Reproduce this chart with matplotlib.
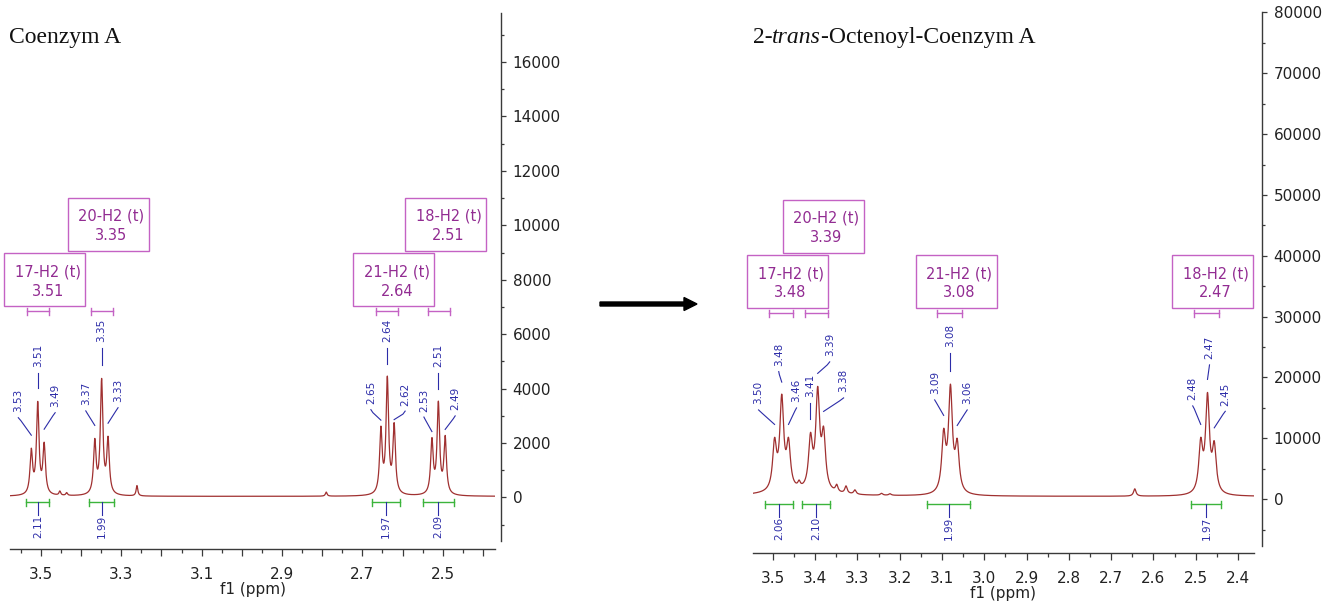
import numpy as np
import matplotlib
matplotlib.use('Agg')
import matplotlib.pyplot as plt
from matplotlib.patches import Rectangle, FancyArrow
from matplotlib.lines import Line2D
from matplotlib.transforms import IdentityTransform
from matplotlib.ticker import MultipleLocator, FuncFormatter

# ---- Coenzym A (left) ----
ppm_coa = [3.524, 3.508, 3.492, 3.366, 3.349, 3.333, 2.654, 2.638, 2.621, 2.527, 2.511, 2.494]
height_coa = [1810, 3530, 2030, 2170, 4375, 2250, 2620, 4460, 2750, 2200, 3540, 2280]
label_coa = ['3.53', '3.51', '3.49', '3.37', '3.35', '3.33', '2.65', '2.64', '2.62', '2.53', '2.51', '2.49']
small_ppm_coa = [3.453, 3.436, 3.261, 2.790]
small_height_coa = [150, 100, 380, 150]
mult_shift_coa = ['3.51', '3.35', '2.64', '2.51']
mult_range_coa = [(3.535, 3.479), (3.376, 3.320), (2.665, 2.611), (2.536, 2.482)]
int_range_coa = [(3.536, 3.479), (3.380, 3.317), (2.677, 2.607), (2.550, 2.473)]
int_value_coa = ['2.11', '1.99', '1.97', '2.09']

# ---- 2-trans-Octenoyl-Coenzym A (right) ----
ppm_oct = [3.496, 3.479, 3.463, 3.411, 3.394, 3.380, 3.096, 3.080, 3.064, 2.488, 2.472, 2.456]
height_oct = [10150, 17270, 10150, 10970, 18540, 11960, 11630, 18910, 9980, 10150, 17550, 9590]
label_oct = ['3.50', '3.48', '3.46', '3.41', '3.39', '3.38', '3.09', '3.08', '3.06', '2.48', '2.47', '2.45']
small_ppm_oct = [3.438, 3.349, 3.327, 3.306, 3.243, 3.223, 2.644]
small_height_oct = [900, 1100, 1200, 700, 300, 250, 1200]
mult_shift_oct = ['3.48', '3.39', '3.08', '2.47']
mult_range_oct = [(3.509, 3.452), (3.424, 3.369), (3.112, 3.052), (2.505, 2.445)]
int_range_oct = [(3.519, 3.452), (3.431, 3.364), (3.135, 3.033), (2.510, 2.439)]
int_value_oct = ['2.06', '2.10', '1.99', '1.97']

mult_name = ['17-H2 (t)', '20-H2 (t)', '21-H2 (t)', '18-H2 (t)']

# layout of the peak labels (pixel offsets from the peak top)
lab_dx_coa = [-13, 0, 11, -9, 0, 10, -10, 0, 11, -8, 0, 10]
lab_b_coa = [36, 34, 35, 33, 36, 34, 22, 34, 17, 26, 34, 25]
lab_end_coa = [13, 13, 13, 13, 13, 13, 6, 12, 3, 6, 12, 6]
lab_dx_oct = [-16, -3, 8, 0, 12, 20, -9, 0, 10, -8, 2, 11]
lab_b_oct = [33, 28, 35, 35, 30, 34, 34, 37, 34, 37, 33, 35]
lab_end_oct = [13, 12, 13, 13, 13, 15, 13, 13, 13, 13, 13, 13]
row_coa = [0, 1, 0, 1]
row_oct = [0, 1, 0, 0]

W, H = 1332, 603
RED = '#a03030'
BLUE = '#2c2ca8'
GREEN = '#3cb43c'
MAG_T = '#922c92'
MAG_E = '#c462c4'
AXC = '#3a3a3a'
idt = IdentityTransform()


def lorentz(x, x0, g):
    return 1.0 / (1.0 + ((x - x0) / g) ** 2)


def spectrum(x, ppm, heights, gamma, small_ppm, small_h, small_g, base, hump):
    ppm = np.asarray(ppm)
    heights = np.asarray(heights, float)

    def bg(z):
        z = np.asarray(z, float)
        out = base + hump[0] * lorentz(z, hump[1], hump[2])
        for p, h in zip(small_ppm, small_h):
            out = out + h * lorentz(z, p, small_g)
        return out

    M = lorentz(ppm[:, None], ppm[None, :], gamma)
    amps = np.linalg.solve(M, heights - bg(ppm))
    return bg(x) + (amps[None, :] * lorentz(x[:, None], ppm[None, :], gamma)).sum(1)


fig = plt.figure(figsize=(W / 100, H / 100), dpi=100)
axL = fig.add_axes([10 / W, (H - 541) / H, 485 / W, 528 / H])
axR = fig.add_axes([753 / W, (H - 546) / H, 501 / W, 533.5 / H])


def style_axes(ax, xlim, ylim, ymaj, ymin, odd_only, rout, bout):
    ax.set_xlim(*xlim)
    ax.set_ylim(*ylim)
    for s in ['top', 'left']:
        ax.spines[s].set_visible(False)
    ax.spines['right'].set_position(('outward', rout * 0.72))
    ax.spines['bottom'].set_position(('outward', bout * 0.72))
    for s in ['right', 'bottom']:
        ax.spines[s].set_color(AXC)
        ax.spines[s].set_linewidth(1.0)
    ax.yaxis.tick_right()
    ax.yaxis.set_major_locator(MultipleLocator(ymaj))
    ax.yaxis.set_minor_locator(MultipleLocator(ymin))
    ax.yaxis.set_major_formatter(FuncFormatter(lambda v, p: f'{v:.0f}'))
    ax.xaxis.set_major_locator(MultipleLocator(0.1))
    ax.xaxis.set_minor_locator(MultipleLocator(0.05))
    if odd_only:
        ax.xaxis.set_major_formatter(FuncFormatter(
            lambda v, p: f'{v:.1f}' if int(round(v * 10)) % 2 == 1 else ''))
    else:
        ax.xaxis.set_major_formatter(FuncFormatter(lambda v, p: f'{v:.1f}'))
    ax.tick_params(axis='y', which='major', length=3.6, width=0.9, pad=4.8,
                   labelsize=11, color=AXC, labelcolor='#222222')
    ax.tick_params(axis='y', which='minor', length=2.2, width=0.9, color=AXC)
    ax.tick_params(axis='x', which='major', length=4.7, width=0.9, pad=8,
                   labelsize=11, color=AXC, labelcolor='#222222')
    ax.tick_params(axis='x', which='minor', length=3.0, width=0.9, color=AXC)
    ax.set_xlabel('f1 (ppm)', fontsize=11, labelpad=0, color='#222222')
    ax.patch.set_alpha(0)


def hline(pts, color, lw=0.9):
    xs, ys = zip(*pts)
    fig.add_artist(Line2D(xs, ys, color=color, lw=lw, transform=idt))


def draw_panel(ax, ppm, heights, labels, dxs, bs, ends, mranges, mshifts, rows,
               iranges, ivals, ydat):
    ax.plot(ydat[0], ydat[1], color=RED, lw=0.9)
    T = ax.transData.transform
    for x, h, lab, dx, b, e in zip(ppm, heights, labels, dxs, bs, ends):
        px, py = T((x, h))
        if dx == 0:
            hline([(px, py + e), (px, py + b - 6)], BLUE, 0.8)
        else:
            hline([(px + dx, py + b - 5.5), (px + dx * 0.8, py + b - 8.5), (px, py + e)], BLUE, 0.8)
        fig.text(px + dx, py + b, lab, rotation=90, ha='center', va='bottom',
                 fontsize=7.5, color=BLUE, transform=idt)
    for (a, c), val in zip(iranges, ivals):
        x0, y0 = T((a, 0))
        x1, _ = T((c, 0))
        y = y0 - 5
        hline([(x0, y), (x1, y)], GREEN, 1.0)
        hline([(x0, y - 3.5), (x0, y + 3.5)], GREEN, 1.0)
        hline([(x1, y - 3.5), (x1, y + 3.5)], GREEN, 1.0)
        xc = (x0 + x1) / 2
        hline([(xc, y), (xc, y - 12.5)], BLUE, 0.8)
        fig.text(xc, y - 12.5, val, rotation=90, ha='center', va='top',
                 fontsize=7.5, color=BLUE, transform=idt)
    for (a, c), name, sh, row in zip(mranges, mult_name, mshifts, rows):
        x0, y0 = T((a, 0))
        x1, _ = T((c, 0))
        y = y0 + 186
        hline([(x0, y), (x1, y)], MAG_E, 1.0)
        hline([(x0, y - 3.5), (x0, y + 3.5)], MAG_E, 1.0)
        hline([(x1, y - 3.5), (x1, y + 3.5)], MAG_E, 1.0)
        bc = (x0 + x1) / 2 + 6.5
        bot = y + 5 + row * 55.5
        fig.add_artist(Rectangle((bc - 40.5, bot), 81, 53, fill=False, ec=MAG_E,
                                 lw=1.0, transform=idt))
        fig.text(bc + 3, bot + 34.5, name, ha='center', va='center', fontsize=10.5,
                 color=MAG_T, transform=idt)
        fig.text(bc + 3, bot + 15.3, sh, ha='center', va='center', fontsize=10.5,
                 color=MAG_T, transform=idt)


style_axes(axL, (3.577, 2.370), (-1600, 17800), 2000, 1000, True, 6, 8)
style_axes(axR, (3.547, 2.362), (-7700, 80000), 10000, 5000, False, 8, 7)

xL = np.linspace(3.577, 2.370, 6000)
yL = spectrum(xL, ppm_coa, height_coa, 0.0038, small_ppm_coa, small_height_coa,
              0.0025, 40, (0, 3.0, 0.1))
xR = np.linspace(3.547, 2.362, 6000)
yR = spectrum(xR, ppm_oct, height_oct, 0.0055, small_ppm_oct, small_height_oct,
              0.0035, 450, (500, 3.45, 0.1))

draw_panel(axL, ppm_coa, height_coa, label_coa, lab_dx_coa, lab_b_coa, lab_end_coa,
           mult_range_coa, mult_shift_coa, row_coa, int_range_coa, int_value_coa, (xL, yL))
draw_panel(axR, ppm_oct, height_oct, label_oct, lab_dx_oct, lab_b_oct, lab_end_oct,
           mult_range_oct, mult_shift_oct, row_oct, int_range_oct, int_value_oct, (xR, yR))

# titles
fig.text(9.3 / W, 1 - 42.7 / H, 'Coenzym A', family='Liberation Serif', size=17,
         va='baseline', color='#111111')
t1 = fig.text(752.7 / W, 1 - 42.7 / H, '2-', family='Liberation Serif', size=17,
              va='baseline', color='#111111')
t2 = axR.annotate('trans', xy=(1, 0), xycoords=t1, va='bottom', family='Liberation Serif',
                  style='italic', size=17, color='#111111')
axR.annotate('-Octenoyl-Coenzym A', xy=(1, 0), xycoords=t2, va='bottom',
             family='Liberation Serif', size=17, color='#111111')

# reaction arrow
fig.add_artist(FancyArrow(600, H - 304, 97, 0, width=4, head_width=13, head_length=13,
                          length_includes_head=True, color='black', transform=idt))

fig.savefig('out.png', dpi=100)
